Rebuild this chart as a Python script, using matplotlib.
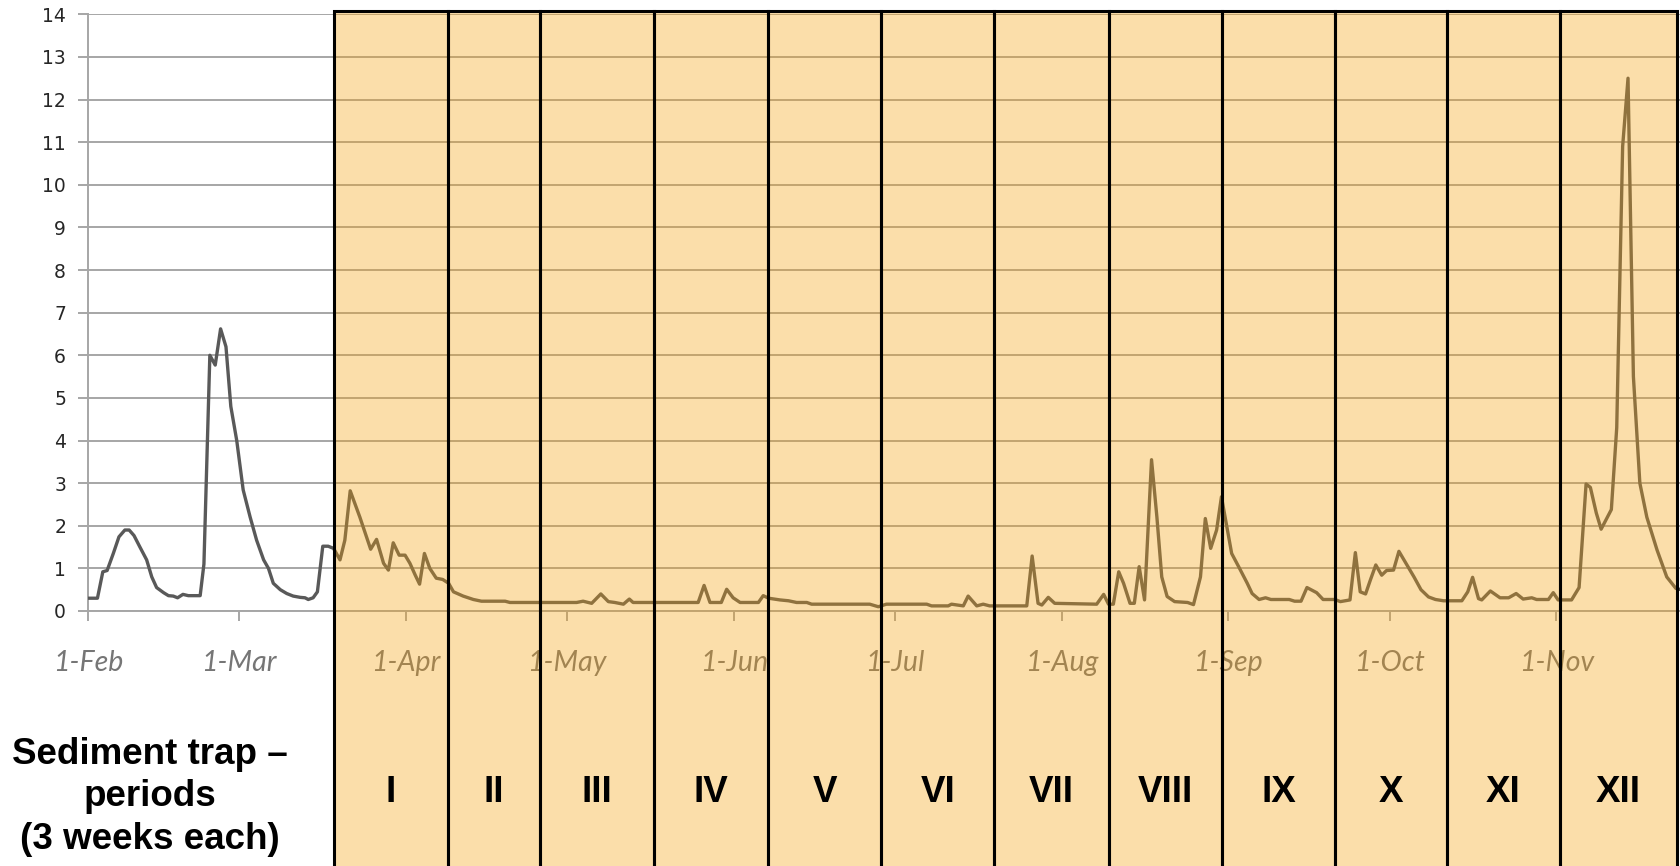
import matplotlib
matplotlib.use("Agg")
import matplotlib.pyplot as plt
import matplotlib.dates as mdates
import matplotlib.transforms as mtransforms
from matplotlib.patches import Rectangle
import numpy as np

# ---------------- data ----------------
start_date = "2011-02-01"          # day 0 of the series
# day offsets (since 1 Feb) of the line vertices and the plotted values
days = [0, 1.7, 2.7, 3.5, 4.65, 5.7, 6.8, 7.6, 8.5, 9.6, 10.85, 11.8, 12.7, 14.0,
        14.9, 15.8, 16.6, 17.6, 18.6, 20.8, 21.5, 22.6, 23.6, 24.6, 25.6, 26.5,
        27.6, 28.8, 30.1, 31.3, 32.6, 33.5, 34.4, 35.7, 36.9, 38.1, 39.4, 40.3,
        40.9, 41.8, 42.6, 43.6, 44.6, 45.6,
        46.8, 47.7, 48.7, 50.5, 52.5, 53.6, 54.9, 55.8, 56.7, 57.8, 58.9, 59.8,
        60.8, 61.6, 62.5, 63.5, 64.7, 65.9, 67.0, 67.9, 69.7, 71.6, 73.1, 77.5,
        78.4, 90.8, 92.0, 93.6, 95.3, 96.7, 97.9, 99.5, 100.6, 101.3, 113.4,
        114.5, 115.6, 117.7, 118.7, 119.9, 121.2, 124.6, 125.5, 126.5, 128.6,
        130.2, 131.7, 133.6, 134.5, 145.3, 146.9, 148.4, 155.9, 156.8, 159.9,
        160.5, 162.7, 163.6, 165.2, 166.4, 167.6, 174.5, 175.5, 176.6, 177.3,
        178.5, 179.7, 187.5, 188.8, 189.7, 190.6, 191.6, 192.5, 193.7, 194.5,
        195.4, 196.4, 197.7, 198.7, 199.6, 200.6, 202.0, 204.4, 205.5, 206.8,
        207.7, 208.7, 209.8, 210.7, 211.7, 212.6, 213.9, 215.5, 216.4, 217.7,
        218.9, 219.9, 223.3, 224.3, 225.5, 226.6, 228.4, 229.6, 231.8, 232.8,
        234.6, 235.6, 236.5, 237.5, 238.4, 239.4, 240.5, 241.4, 242.7, 243.7,
        245.1, 246.5, 247.8, 249.2, 250.5, 252.0, 255.4, 256.5, 257.4, 258.5,
        259.1, 260.7, 262.5, 264.1, 265.5, 266.8, 268.4, 269.3, 271.5, 272.4,
        273.3, 275.8, 277.2, 278.5, 279.3, 280.4, 281.3, 283.2, 284.2, 285.3,
        286.3, 287.3, 288.5, 289.8, 291.7, 293.5, 295.2, 296.2]
values = [0.3, 0.3, 0.92, 0.95, 1.35, 1.74, 1.9, 1.9, 1.77, 1.5, 1.2, 0.8, 0.55, 0.43,
          0.36, 0.35, 0.31, 0.39, 0.36, 0.36, 1.1, 6.0, 5.77, 6.62, 6.2, 4.8,
          4.0, 2.84, 2.2, 1.66, 1.2, 1.0, 0.65, 0.5, 0.41, 0.35, 0.32, 0.31,
          0.27, 0.31, 0.45, 1.52, 1.52, 1.47,
          1.2, 1.66, 2.82, 2.2, 1.45, 1.68, 1.12, 0.96, 1.6, 1.31, 1.31, 1.12,
          0.84, 0.63, 1.35, 1.0, 0.77, 0.74, 0.65, 0.45, 0.35, 0.27, 0.23, 0.23,
          0.2, 0.2, 0.23, 0.18, 0.4, 0.22, 0.2, 0.16, 0.28, 0.2, 0.2,
          0.6, 0.2, 0.2, 0.51, 0.31, 0.2, 0.2, 0.36, 0.3, 0.26,
          0.24, 0.2, 0.2, 0.16, 0.16, 0.1, 0.16, 0.16, 0.12, 0.12,
          0.16, 0.12, 0.35, 0.12, 0.16, 0.12, 0.12, 1.29, 0.18, 0.14,
          0.32, 0.18, 0.16, 0.39, 0.16, 0.16, 0.92, 0.65, 0.18, 0.18,
          1.04, 0.26, 3.55, 2.2, 0.8, 0.34, 0.22, 0.2, 0.15, 0.8,
          2.17, 1.47, 1.9, 2.68, 1.98, 1.35, 1.04, 0.65, 0.41, 0.27,
          0.31, 0.27, 0.27, 0.23, 0.23, 0.55, 0.43, 0.27, 0.27, 0.22,
          0.26, 1.37, 0.45, 0.4, 0.73, 1.08, 0.84, 0.95, 0.96, 1.4,
          1.1, 0.8, 0.5, 0.33, 0.27, 0.24, 0.24, 0.45, 0.79, 0.29,
          0.26, 0.47, 0.31, 0.31, 0.41, 0.28, 0.31, 0.27, 0.27, 0.43,
          0.26, 0.26, 0.55, 2.98, 2.9, 2.3, 1.92, 2.38, 4.3, 10.9,
          12.5, 5.5, 3.0, 2.2, 1.43, 0.8, 0.53, 0.5]

# sediment-trap periods: boundaries (days since 1 Feb) and labels
period_edges = [45.7, 66.8, 84.0, 105.2, 126.4, 147.4, 168.5, 189.7, 210.8,
                231.9, 252.7, 273.6, 295.5]
period_labels = ["I", "II", "III", "IV", "V", "VI", "VII", "VIII", "IX", "X",
                 "XI", "XII"]
y_ticks = list(range(0, 15))
side_label = "Sediment trap \u2013\nperiods\n(3 weeks each)"

# ---------------- figure ----------------
W, H = 1681, 866
fig = plt.figure(figsize=(W / 100, H / 100), dpi=100)
ax_left_px, ax_bottom_px, ax_top_px = 88.3, 611.0, 14.3
ax = fig.add_axes([ax_left_px / W, 1 - ax_bottom_px / H,
                   1 - ax_left_px / W, (ax_bottom_px - ax_top_px) / H])

x0 = mdates.date2num(np.datetime64(start_date))
x = x0 + np.array(days)

grid_col = "#a6a6a6"
ax.plot(x, values, color="#595959", lw=2.4, zorder=3)

ax.set_ylim(0, 14)
ax.set_yticks(y_ticks)
ax.set_xlim(x0, x0 + (W - ax_left_px) / 5.378)
ax.grid(axis="y", color=grid_col, lw=1.4)
ax.set_axisbelow(True)
for s in ["top", "right"]:
    ax.spines[s].set_visible(False)
for s in ["left", "bottom"]:
    ax.spines[s].set_color(grid_col)
    ax.spines[s].set_linewidth(1.4)

ax.xaxis.set_major_locator(mdates.MonthLocator())
ax.xaxis.set_major_formatter(mdates.DateFormatter("%-d-%b"))
ax.tick_params(axis="x", length=7, width=1.4, color=grid_col, pad=21,
               labelsize=20.5, labelcolor="#767676")
ax.tick_params(axis="y", length=7, width=1.4, color=grid_col, pad=9,
               labelsize=13.5, labelcolor="#262626")
for lab in ax.get_xticklabels():
    lab.set_fontfamily("Lato")
    lab.set_fontstyle("italic")

# ---------------- period overlay ----------------
trans = mtransforms.blended_transform_factory(ax.transData, ax.transAxes)
top_ax = (ax_bottom_px - 10.7) / (ax_bottom_px - ax_top_px)
bot_ax = (ax_bottom_px - H - 20) / (ax_bottom_px - ax_top_px)
label_y = (ax_bottom_px - 793) / (ax_bottom_px - ax_top_px)
overlay = (0.965, 0.63, 0.05, 0.35)
for i, lab in enumerate(period_labels):
    a, b = x0 + period_edges[i], x0 + period_edges[i + 1]
    ax.add_patch(Rectangle((a, bot_ax), b - a, top_ax - bot_ax, transform=trans,
                           facecolor=overlay, edgecolor="black", lw=2.2,
                           clip_on=False, zorder=5))
    ax.text((a + b) / 2, label_y, lab, transform=trans, ha="center", va="center",
            fontsize=26.5, fontweight="bold", family="Liberation Sans",
            color="black", zorder=7, clip_on=False)

fig.text(150 / W, 1 - 797 / H, side_label, ha="center", va="center",
         fontsize=26.5, fontweight="bold", family="Liberation Sans",
         color="black", linespacing=1.27)

fig.savefig("out.png", dpi=100)
